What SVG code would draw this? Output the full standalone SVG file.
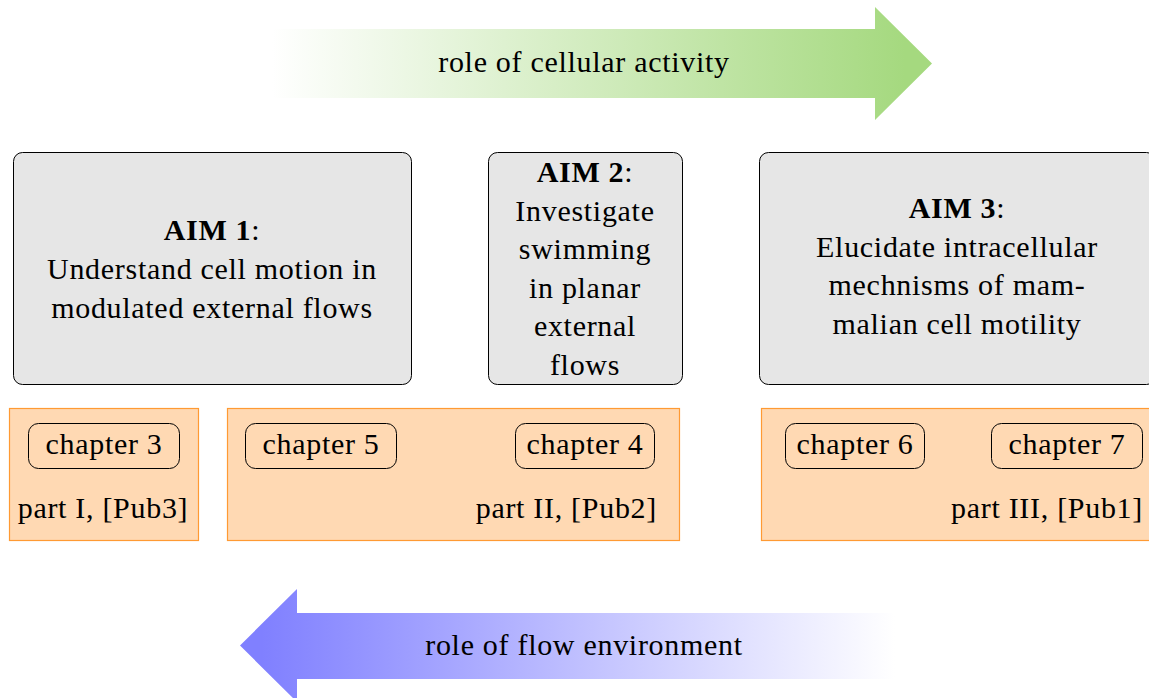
<svg xmlns="http://www.w3.org/2000/svg" width="1149" height="698" viewBox="0 0 1149 698">
<style>
text{font-family:"Liberation Serif","Times New Roman",serif;font-size:30px;letter-spacing:0.7px;fill:#000}
.c{text-anchor:middle}
.r{text-anchor:end}
.aim{fill:#e6e6e6;stroke:#000;stroke-width:1}
.part{fill:#ffd9b3;stroke:#ff9a33;stroke-width:1.2}
.ch{fill:none;stroke:#000;stroke-width:1}
</style>
<defs>
<linearGradient id="gGreen" gradientUnits="userSpaceOnUse" x1="272" y1="0" x2="905" y2="0">
<stop offset="0" stop-color="#ffffff"/>
<stop offset="1" stop-color="#a5d97f"/>
</linearGradient>
<linearGradient id="gBlue" gradientUnits="userSpaceOnUse" x1="262" y1="0" x2="895" y2="0">
<stop offset="0" stop-color="#8080ff"/>
<stop offset="1" stop-color="#ffffff"/>
</linearGradient>
</defs>

<g id="arrow-cellular">
<polygon points="272,29 875,29 875,7 932,63.5 875,120 875,98 272,98" fill="url(#gGreen)"/>
<text class="c" x="584" y="72">role of cellular activity</text>
</g>

<g id="arrow-flow">
<polygon points="895,613 297,613 297,589 240,645.5 297,702 297,679 895,679" fill="url(#gBlue)"/>
<text class="c" x="584" y="655">role of flow environment</text>
</g>

<g id="aim1">
<rect class="aim" x="13.5" y="152.5" width="398" height="232" rx="9"/>
<text class="c" x="212" y="240"><tspan font-weight="bold">AIM 1</tspan>:</text>
<text class="c" x="212" y="279">Understand cell motion in</text>
<text class="c" x="212" y="318">modulated external flows</text>
</g>

<g id="aim2">
<rect class="aim" x="488.5" y="152.5" width="194" height="232" rx="9"/>
<text class="c" x="585" y="182"><tspan font-weight="bold">AIM 2</tspan>:</text>
<text class="c" x="585" y="221">Investigate</text>
<text class="c" x="585" y="259">swimming</text>
<text class="c" x="585" y="298">in planar</text>
<text class="c" x="585" y="336">external</text>
<text class="c" x="585" y="375">flows</text>
</g>

<g id="aim3">
<rect class="aim" x="759.5" y="152.5" width="396" height="232" rx="9"/>
<text class="c" x="957" y="218"><tspan font-weight="bold">AIM 3</tspan>:</text>
<text class="c" x="957" y="257">Elucidate intracellular</text>
<text class="c" x="957" y="295">mechnisms of mam-</text>
<text class="c" x="957" y="334">malian cell motility</text>
</g>

<g id="part1">
<rect class="part" x="9.5" y="408.5" width="189" height="132"/>
<text class="c" x="103" y="518">part I, [Pub3]</text>
</g>
<g id="part2">
<rect class="part" x="227.5" y="408.5" width="452" height="132"/>
<text class="r" x="657" y="518">part II, [Pub2]</text>
</g>
<g id="part3">
<rect class="part" x="761.5" y="408.5" width="405" height="132"/>
<text class="r" x="1143" y="518">part III, [Pub1]</text>
</g>

<g id="chapter3">
<rect class="ch" x="28.5" y="423.5" width="151" height="45" rx="10"/>
<text class="c" x="104" y="454">chapter 3</text>
</g>
<g id="chapter5">
<rect class="ch" x="245.5" y="423.5" width="151" height="45" rx="10"/>
<text class="c" x="321" y="454">chapter 5</text>
</g>
<g id="chapter4">
<rect class="ch" x="515.5" y="423.5" width="139" height="45" rx="10"/>
<text class="c" x="585" y="454">chapter 4</text>
</g>
<g id="chapter6">
<rect class="ch" x="785.5" y="423.5" width="139" height="45" rx="10"/>
<text class="c" x="855" y="454">chapter 6</text>
</g>
<g id="chapter7">
<rect class="ch" x="991.5" y="423.5" width="151" height="45" rx="10"/>
<text class="c" x="1067" y="454">chapter 7</text>
</g>

<g id="connectors"></g>
</svg>
